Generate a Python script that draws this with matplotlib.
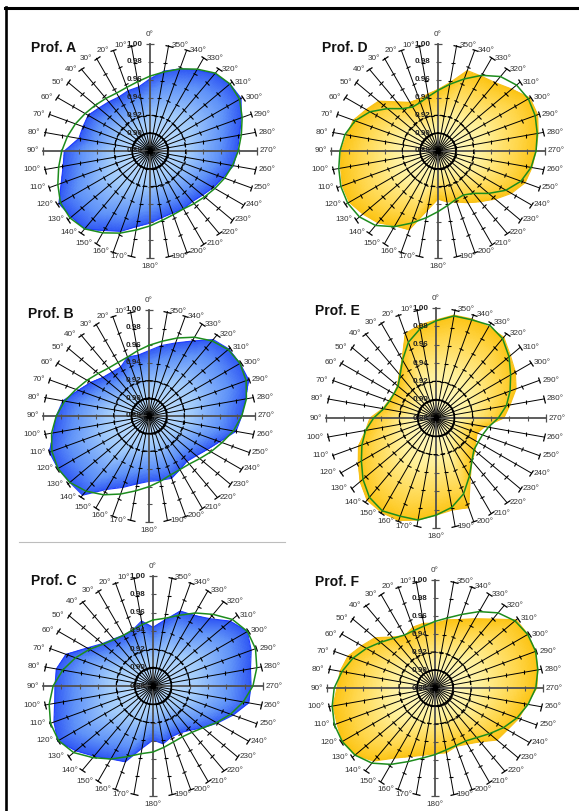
import numpy as np
import matplotlib
matplotlib.use("Agg")
import matplotlib.pyplot as plt
from matplotlib.markers import MarkerStyle
from matplotlib.transforms import Affine2D
from matplotlib.colors import LinearSegmentedColormap
from matplotlib.lines import Line2D

plt.rcParams["font.family"] = ["Liberation Sans", "DejaVu Sans"]

# ---- data -------------------------------------------------------------
angles_deg = np.arange(0, 360, 10)
angle_labels = [f"{a}°" for a in angles_deg]
ring_levels = [0.88, 0.90, 0.92, 0.94, 0.96, 0.98, 1.00]
ring_labels = ["0.88", "0.90", "0.92", "0.94", "0.96", "0.98", "1.00"]

titles = ["Prof. A", "Prof. B", "Prof. C", "Prof. D", "Prof. E", "Prof. F"]

prof_a = [0.961, 0.953, 0.952, 0.950, 0.952, 0.955, 0.960, 0.960, 0.961, 0.976, 0.979, 0.986,
          0.998, 0.995, 0.994, 0.983, 0.976, 0.966, 0.961, 0.956, 0.954, 0.955, 0.954, 0.957,
          0.962, 0.967, 0.975, 0.978, 0.982, 0.989, 0.998, 0.997, 0.993, 0.985, 0.978, 0.971]
fit_a = [0.964, 0.959, 0.956, 0.955, 0.957, 0.960, 0.964, 0.969, 0.974, 0.979, 0.984, 0.990,
         0.996, 0.997, 0.994, 0.986, 0.978, 0.970, 0.964, 0.959, 0.956, 0.955, 0.957, 0.960,
         0.964, 0.969, 0.974, 0.979, 0.984, 0.990, 0.996, 0.997, 0.994, 0.986, 0.978, 0.970]

prof_b = [0.954, 0.950, 0.951, 0.944, 0.945, 0.948, 0.956, 0.965, 0.979, 0.985, 0.990, 1.000,
          0.999, 0.997, 0.997, 0.976, 0.966, 0.958, 0.954, 0.954, 0.955, 0.950, 0.947, 0.950,
          0.956, 0.965, 0.980, 0.985, 0.991, 1.000, 0.999, 0.998, 0.993, 0.978, 0.968, 0.961]
fit_b = [0.960, 0.955, 0.951, 0.950, 0.951, 0.955, 0.961, 0.968, 0.977, 0.985, 0.992, 0.997,
         0.999, 0.997, 0.991, 0.983, 0.974, 0.966, 0.960, 0.955, 0.951, 0.950, 0.951, 0.955,
         0.961, 0.968, 0.977, 0.985, 0.992, 0.997, 0.999, 0.997, 0.991, 0.983, 0.974, 0.966]

prof_c = [0.944, 0.952, 0.945, 0.944, 0.947, 0.952, 0.963, 0.981, 0.987, 0.987, 0.989, 0.995,
          1.000, 0.990, 0.980, 0.972, 0.968, 0.949, 0.939, 0.944, 0.939, 0.939, 0.943, 0.951,
          0.961, 0.973, 0.986, 0.987, 0.988, 0.994, 0.999, 0.990, 0.976, 0.969, 0.967, 0.953]
fit_c = [0.952, 0.948, 0.945, 0.944, 0.946, 0.951, 0.960, 0.970, 0.980, 0.989, 0.995, 0.999,
         0.999, 0.993, 0.982, 0.972, 0.962, 0.955, 0.952, 0.948, 0.945, 0.944, 0.946, 0.951,
         0.960, 0.970, 0.980, 0.989, 0.995, 0.999, 0.999, 0.993, 0.982, 0.972, 0.962, 0.955]

prof_d = [0.949, 0.945, 0.942, 0.943, 0.952, 0.967, 0.973, 0.981, 0.984, 0.989, 0.991, 0.994,
          0.995, 0.990, 0.985, 0.977, 0.974, 0.947, 0.934, 0.938, 0.941, 0.947, 0.954, 0.964,
          0.975, 0.984, 0.987, 0.990, 0.994, 0.999, 0.999, 0.988, 0.980, 0.977, 0.976, 0.958]
fit_d = [0.948, 0.942, 0.938, 0.937, 0.942, 0.954, 0.968, 0.979, 0.986, 0.990, 0.993, 0.996,
         0.997, 0.995, 0.989, 0.978, 0.966, 0.956, 0.948, 0.942, 0.938, 0.937, 0.942, 0.954,
         0.968, 0.979, 0.986, 0.990, 0.993, 0.996, 0.997, 0.995, 0.989, 0.978, 0.966, 0.956]

prof_e = [0.987, 0.983, 0.978, 0.954, 0.942, 0.935, 0.933, 0.935, 0.939, 0.952, 0.958, 0.970,
          0.978, 0.988, 0.997, 0.999, 0.999, 0.993, 0.986, 0.982, 0.984, 0.955, 0.941, 0.936,
          0.930, 0.928, 0.934, 0.954, 0.962, 0.973, 0.980, 0.986, 0.995, 0.995, 0.995, 0.994]
fit_e = [0.986, 0.979, 0.968, 0.953, 0.941, 0.934, 0.933, 0.934, 0.938, 0.948, 0.958, 0.966,
         0.974, 0.984, 0.993, 0.997, 0.994, 0.993, 0.986, 0.979, 0.968, 0.953, 0.941, 0.934,
         0.933, 0.934, 0.938, 0.948, 0.958, 0.966, 0.974, 0.984, 0.993, 0.997, 0.994, 0.993]

prof_f = [0.952, 0.953, 0.952, 0.947, 0.954, 0.967, 0.974, 0.983, 0.987, 0.989, 0.995, 0.996,
          0.999, 0.996, 0.986, 0.970, 0.961, 0.956, 0.953, 0.953, 0.949, 0.952, 0.958, 0.970,
          0.973, 0.979, 0.984, 0.993, 0.996, 0.999, 0.999, 0.998, 0.980, 0.969, 0.961, 0.957]
fit_f = [0.954, 0.950, 0.948, 0.948, 0.952, 0.959, 0.968, 0.977, 0.985, 0.992, 0.996, 0.999,
         0.999, 0.996, 0.989, 0.978, 0.967, 0.959, 0.954, 0.950, 0.948, 0.948, 0.952, 0.959,
         0.968, 0.977, 0.985, 0.992, 0.996, 0.999, 0.999, 0.996, 0.989, 0.978, 0.967, 0.959]

# ---- styling ----------------------------------------------------------
W, H = 579, 811
fig = plt.figure(figsize=(W / 100, H / 100), dpi=100)
fig.patch.set_facecolor("white")

blue_map = LinearSegmentedColormap.from_list(
    "blue_grad", [(0.0, "#cce6ff"), (0.45, "#a0cafb"), (0.8, "#5f92f8"), (1.0, "#3058f4")])
gold_map = LinearSegmentedColormap.from_list(
    "gold_grad", [(0.0, "#fffcd4"), (0.45, "#fff09a"), (0.8, "#ffd64a"), (1.0, "#fcc414")])

# panel centre (px), outer radius (px), title anchor (px)
panels = [
    (titles[0], prof_a, fit_a, (150, 151), 107, blue_map, "#1f3cff", (31, 48)),
    (titles[1], prof_b, fit_b, (149, 416), 106, blue_map, "#1f3cff", (28, 314)),
    (titles[2], prof_c, fit_c, (153, 686), 110, blue_map, "#1f3cff", (31, 581)),
    (titles[3], prof_d, fit_d, (438, 151), 107, gold_map, "#f8c21a", (322, 48)),
    (titles[4], prof_e, fit_e, (436, 418), 110, gold_map, "#f8c21a", (315, 311)),
    (titles[5], prof_f, fit_f, (435, 688), 108, gold_map, "#f8c21a", (315, 582)),
]

r0, r1 = ring_levels[0], ring_levels[-1]


def draw_panel(title, values, fit, center, radius, cmap, edge, title_xy):
    cx, cy = center
    ax = fig.add_axes([(cx - radius) / W, 1 - (cy + radius) / H,
                       2 * radius / W, 2 * radius / H], projection="polar")
    ax.set_theta_zero_location("N")
    ax.set_theta_direction(1)
    ax.set_axis_off()

    th = np.deg2rad(np.append(angles_deg, 360))
    rv = np.append(values, values[0])

    # profile outline
    poly = ax.fill(th, rv, facecolor="none", edgecolor=edge, lw=0.8, zorder=3)[0]
    poly.set_clip_on(False)

    # path gradient: light at the centre, saturated at the outline
    tg = np.linspace(0, 2 * np.pi, 361)
    rg = np.linspace(r0, r1, 81)
    tm = 0.5 * (tg[:-1] + tg[1:])
    rm = 0.5 * (rg[:-1] + rg[1:])
    bound = np.interp(np.rad2deg(tm), np.append(angles_deg, 360), rv)
    frac = np.clip((rm[:, None] - r0) / (bound[None, :] - r0), 0, 1)
    mesh = ax.pcolormesh(tg, rg, frac, cmap=cmap, vmin=0, vmax=1,
                         shading="flat", zorder=1, antialiased=False)
    mesh.set_clip_path(poly)

    # spokes with tick marks
    for a in angles_deg:
        t = np.deg2rad(a)
        main = a % 90 == 0
        col = "#505050" if main else "black"
        lw = 1.3 if main else 0.7
        ax.plot([t, t], [r0, r1], color=col, lw=lw, zorder=4, clip_on=False)
        mk = MarkerStyle("_", transform=Affine2D().rotate_deg(a))
        ax.plot([t] * 5, ring_levels[1:6], ls="none", marker=mk, ms=3.6,
                mew=0.8, color=col, zorder=4, clip_on=False)
        ax.plot([t], [r1], ls="none", marker=mk, ms=5.2, mew=0.9,
                color=col, zorder=4, clip_on=False)

    # rings
    ct = np.linspace(0, 2 * np.pi, 240)
    ax.plot(ct, np.full_like(ct, ring_levels[1]), color="black", lw=1.2, zorder=4)
    ax.plot(ct, np.full_like(ct, ring_levels[2]), color="black", lw=0.9,
            ls=(0, (3.5, 2.5)), zorder=4)
    ax.plot([0], [r0], marker="o", ms=3, color="black", zorder=4)

    # fitted curve
    ax.plot(th, np.append(fit, fit[0]), color="#1d8c1d", lw=1.1, zorder=5, clip_on=False)

    ax.set_ylim(r0, r1)

    # radial scale labels
    for lvl, lab in zip(ring_levels, ring_labels):
        ax.annotate(lab, xy=(0, lvl), xytext=(-5.5, 0), textcoords="offset points",
                    ha="right", va="center", fontsize=5.8, fontweight="bold",
                    color="#222222", zorder=6, annotation_clip=False)

    # angle labels
    for a, lab in zip(angles_deg, angle_labels):
        t = np.deg2rad(a)
        if a == 0:
            ha, va, off = "center", "bottom", (0, 4)
        elif a == 180:
            ha, va, off = "center", "top", (0, -3.5)
        elif a < 180:
            ha, va, off = "right", "center", (-3.0, 0)
        else:
            ha, va, off = "left", "center", (2.0, 0)
        ax.annotate(lab, xy=(t, r1), xytext=off, textcoords="offset points",
                    ha=ha, va=va, fontsize=5.9, color="#333333", annotation_clip=False)

    tx, ty = title_xy
    fig.text(tx / W, 1 - ty / H, title, ha="left", va="center",
             fontsize=10, fontweight="bold", color="#111111")


for p in panels:
    draw_panel(*p)

# page frame
fig.add_artist(Line2D([5 / W, 1], [1 - 7.5 / H] * 2, color="black", lw=2.2,
                      transform=fig.transFigure))
fig.add_artist(Line2D([6 / W] * 2, [1 - 6.5 / H, 0], color="black", lw=1.9,
                      transform=fig.transFigure))
fig.add_artist(Line2D([19 / W, 285 / W], [1 - 542 / H] * 2, color="#bdbdbd", lw=0.8,
                      transform=fig.transFigure))

fig.savefig("out.png", dpi=100)
